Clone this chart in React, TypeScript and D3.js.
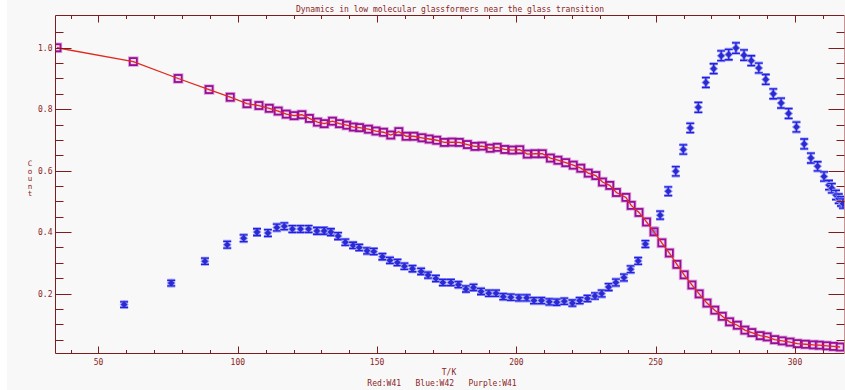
import * as d3 from 'd3';

// T/K values and counts
const purpleT = [35.1, 62.5, 78.6, 89.7, 97.3, 103.3, 107.6, 111.3, 114.5, 117.4,
  120.2, 123.0, 125.7, 128.6, 131.0, 134.0, 136.5, 139.1, 141.5, 143.7,
  146.9, 149.6, 152.3, 154.9, 157.8, 160.4, 163.2, 166.1, 168.7, 171.4,
  174.1, 176.9, 179.5, 182.4, 185.1, 187.7, 190.6, 193.1, 195.8, 198.5,
  201.2, 203.9, 206.7, 209.3, 212.2, 214.9, 217.7, 220.4, 223.1, 225.8,
  228.5, 230.9, 233.5, 235.9, 239.3, 241.2, 244.0, 246.7, 249.4, 252.2,
  254.9, 257.6, 260.2, 263.0, 265.6, 268.4, 271.2, 273.9, 276.5, 279.3,
  282.0, 284.5, 287.5, 290.0, 292.7, 295.4, 298.2, 300.8, 303.7, 306.6,
  308.7, 311.4, 313.8, 316.2];
const purpleV = [1.000, 0.955, 0.900, 0.864, 0.839, 0.818, 0.812, 0.803, 0.794, 0.784,
  0.779, 0.782, 0.770, 0.758, 0.753, 0.761, 0.753, 0.748, 0.742, 0.740,
  0.735, 0.729, 0.725, 0.716, 0.727, 0.712, 0.712, 0.707, 0.703, 0.699,
  0.692, 0.693, 0.692, 0.685, 0.679, 0.680, 0.673, 0.676, 0.669, 0.667,
  0.668, 0.654, 0.655, 0.655, 0.641, 0.634, 0.626, 0.618, 0.608, 0.592,
  0.584, 0.563, 0.552, 0.529, 0.513, 0.487, 0.464, 0.433, 0.401, 0.365,
  0.332, 0.295, 0.261, 0.228, 0.199, 0.169, 0.146, 0.126, 0.108, 0.097,
  0.081, 0.073, 0.063, 0.059, 0.050, 0.046, 0.042, 0.037, 0.035, 0.033,
  0.032, 0.030, 0.028, 0.026];

const blueT = [59.2, 76.1, 88.2, 96.2, 102.1, 106.9, 110.8, 114.0, 116.7, 119.6,
  122.5, 125.4, 128.4, 131.0, 133.4, 136.0, 138.6, 141.4, 143.6, 146.4,
  148.8, 151.9, 154.6, 157.3, 159.8, 162.7, 165.8, 168.3, 171.1, 173.6,
  176.5, 179.2, 181.9, 184.6, 187.3, 190.1, 192.7, 195.3, 198.0, 200.9,
  203.7, 206.3, 209.0, 211.8, 214.5, 217.2, 220.1, 222.7, 225.5, 228.2,
  230.6, 233.1, 235.7, 238.6, 241.0, 243.7, 246.3, 249.2, 251.6, 254.5,
  257.2, 259.9, 262.4, 265.3, 268.0, 270.8, 273.5, 276.2, 278.8, 281.7,
  284.3, 287.0, 289.5, 292.2, 295.0, 297.7, 300.5, 303.3, 305.7, 308.1,
  310.4, 312.2, 313.2, 314.7, 315.7, 316.5, 317.2];
const blueV = [0.164, 0.234, 0.305, 0.359, 0.380, 0.400, 0.397, 0.415, 0.419, 0.410,
  0.410, 0.410, 0.404, 0.404, 0.400, 0.387, 0.367, 0.357, 0.350, 0.339,
  0.337, 0.320, 0.308, 0.301, 0.289, 0.281, 0.272, 0.260, 0.249, 0.236,
  0.236, 0.229, 0.215, 0.220, 0.207, 0.201, 0.201, 0.190, 0.188, 0.186,
  0.186, 0.177, 0.177, 0.173, 0.172, 0.175, 0.169, 0.177, 0.184, 0.192,
  0.200, 0.221, 0.236, 0.252, 0.279, 0.306, 0.361, 0.403, 0.455, 0.533,
  0.598, 0.669, 0.739, 0.806, 0.887, 0.932, 0.974, 0.978, 0.999, 0.976,
  0.958, 0.934, 0.897, 0.850, 0.820, 0.786, 0.742, 0.687, 0.641, 0.614,
  0.581, 0.553, 0.543, 0.521, 0.509, 0.500, 0.493];
const blueErr = [0.009, 0.009, 0.010, 0.011, 0.011, 0.011, 0.011, 0.011, 0.011, 0.011,
  0.011, 0.011, 0.011, 0.011, 0.011, 0.011, 0.010, 0.010, 0.010, 0.010,
  0.010, 0.010, 0.010, 0.010, 0.010, 0.010, 0.010, 0.010, 0.010, 0.010,
  0.010, 0.010, 0.010, 0.010, 0.010, 0.010, 0.010, 0.010, 0.010, 0.010,
  0.010, 0.010, 0.010, 0.010, 0.010, 0.010, 0.010, 0.010, 0.010, 0.010,
  0.011, 0.011, 0.011, 0.011, 0.011, 0.011, 0.011, 0.011, 0.013, 0.014,
  0.015, 0.015, 0.015, 0.016, 0.016, 0.016, 0.016, 0.017, 0.017, 0.017,
  0.016, 0.016, 0.016, 0.016, 0.016, 0.016, 0.016, 0.016, 0.016, 0.015,
  0.015, 0.015, 0.015, 0.015, 0.015, 0.015, 0.015];

const xMajor = [50, 100, 150, 200, 250, 300];
const yMajor = [0.2, 0.4, 0.6, 0.8, 1.0];

const title = 'Dynamics in low molecular glassformers near the glass transition';
const legendText = 'Red:W41   Blue:W42   Purple:W41';
const yTitle = 'Count';

const W = 845;
const H = 390;
const left = 55.5;
const right = 844.5;
const top = 15.5;
const bottom = 353.5;

const axisColor = '#7d1d1d';
const textColor = '#8a2424';
const font = '"DejaVu Sans Mono", monospace';

export default function App() {
  const x = d3.scaleLinear().domain([34.57, 317.76]).range([left, right]);
  const y = d3.scaleLinear().domain([0.0049, 1.105]).range([bottom, top]);

  const xMinor = d3.range(40, 320, 10).filter(t => t % 50 !== 0);
  const yMinor = d3.range(0.05, 1.1, 0.05).filter(v => Math.abs(v * 5 - Math.round(v * 5)) > 1e-6);

  const line = d3.line<number>()
    .x(i => x(purpleT[i]))
    .y(i => y(purpleV[i]));
  const idx = d3.range(purpleT.length);

  const diamond = (cx: number, cy: number, r: number) =>
    `M${cx},${cy - r}L${cx + r},${cy}L${cx},${cy + r}L${cx - r},${cy}Z`;

  return (
    <svg width={W} height={H} style={{ position: 'absolute', left: 0, top: 0, display: 'block' }}>
      <rect x={0} y={0} width={W} height={H} fill="#ffffff" />
      <rect x={7} y={0} width={W - 7} height={H} fill="#f8f8f8" />
      <defs>
        <clipPath id="plot">
          <rect x={left} y={top} width={right - left} height={bottom - top} />
        </clipPath>
      </defs>

      <text x={450} y={12} textAnchor="middle" fontFamily={font} fontSize={8} fill={textColor}>{title}</text>

      <g clipPath="url(#plot)">
        {/* blue error bars + markers */}
        {blueT.map((t, i) => {
          const cx = x(t);
          const y1 = y(blueV[i] + blueErr[i]);
          const y2 = y(blueV[i] - blueErr[i]);
          return (
            <g key={'b' + i}>
              <g stroke="#9a9af2" strokeWidth={3}>
                <line x1={cx} x2={cx} y1={y1} y2={y2} />
                <line x1={cx - 4} x2={cx + 4} y1={y1} y2={y1} />
                <line x1={cx - 4} x2={cx + 4} y1={y2} y2={y2} />
              </g>
              <path d={diamond(cx, y(blueV[i]), 4.5)} fill="#9a9af2" />
              <g stroke="#2020e6" strokeWidth={1.3}>
                <line x1={cx} x2={cx} y1={y1} y2={y2} />
                <line x1={cx - 4} x2={cx + 4} y1={y1} y2={y1} />
                <line x1={cx - 4} x2={cx + 4} y1={y2} y2={y2} />
              </g>
              <path d={diamond(cx, y(blueV[i]), 3.3)} fill="#2a2ad0" />
            </g>
          );
        })}

        {/* purple squares */}
        {idx.map(i => (
          <rect key={'ph' + i} x={x(purpleT[i]) - 4} y={y(purpleV[i]) - 4} width={8} height={8}
            fill="none" stroke="#dcaadc" strokeWidth={2.6} />
        ))}
        {idx.map(i => (
          <rect key={'p' + i} x={x(purpleT[i]) - 3.5} y={y(purpleV[i]) - 3.5} width={7} height={7}
            fill="#e9c4e9" fillOpacity={0.6} stroke="#990d99" strokeWidth={1.8} />
        ))}
        {/* red line */}
        <path d={line(idx) || ''} fill="none" stroke="#e02a1e" strokeWidth={1.3} />
      </g>

      {/* frame */}
      <g stroke={axisColor} strokeWidth={1} fill="none">
        <line x1={left} x2={left} y1={top} y2={bottom} />
        <line x1={left} x2={right} y1={bottom} y2={bottom} />
        <line x1={left} x2={right} y1={top} y2={top} />
        <line x1={right} x2={right} y1={top} y2={bottom} stroke="#c49494" />
        {xMajor.map(t => (
          <g key={'xt' + t}>
            <line x1={Math.round(x(t)) + 0.5} x2={Math.round(x(t)) + 0.5} y1={bottom} y2={bottom - 7} />
            <line x1={Math.round(x(t)) + 0.5} x2={Math.round(x(t)) + 0.5} y1={top} y2={top + 7} />
          </g>
        ))}
        {xMinor.map(t => (
          <g key={'xm' + t}>
            <line x1={Math.round(x(t)) + 0.5} x2={Math.round(x(t)) + 0.5} y1={bottom} y2={bottom - 3.5} />
            <line x1={Math.round(x(t)) + 0.5} x2={Math.round(x(t)) + 0.5} y1={top} y2={top + 3.5} />
          </g>
        ))}
        {yMajor.map(v => (
          <g key={'yt' + v}>
            <line x1={left} x2={left + 16} y1={Math.round(y(v)) + 0.5} y2={Math.round(y(v)) + 0.5} />
            <line x1={right} x2={right - 16} y1={Math.round(y(v)) + 0.5} y2={Math.round(y(v)) + 0.5} />
          </g>
        ))}
        {yMinor.map(v => (
          <g key={'ym' + v}>
            <line x1={left} x2={left + 8} y1={Math.round(y(v)) + 0.5} y2={Math.round(y(v)) + 0.5} />
            <line x1={right} x2={right - 8} y1={Math.round(y(v)) + 0.5} y2={Math.round(y(v)) + 0.5} />
          </g>
        ))}
      </g>

      {/* tick labels */}
      <g fontFamily={font} fontSize={8} fill={textColor}>
        {xMajor.map(t => (
          <text key={'xl' + t} x={x(t)} y={bottom + 11} textAnchor="middle">{t}</text>
        ))}
        {yMajor.map(v => (
          <text key={'yl' + v} x={left - 3} y={y(v) + 3} textAnchor="end">{v.toFixed(1)}</text>
        ))}
      </g>

      {/* axis titles */}
      <text x={449} y={375} textAnchor="middle" fontFamily={font} fontSize={8} fill={textColor}>T/K</text>
      <text x={442} y={386} textAnchor="middle" fontFamily={font} fontSize={8} fill={textColor}
        style={{ whiteSpace: 'pre' }}>{legendText}</text>
      <g fontFamily={font} fontSize={7.5} fill={textColor}>
        {yTitle.split('').map((c, i) => (
          <text key={i} x={30} y={166 + i * 7.6} textAnchor="middle">{c}</text>
        ))}
      </g>
    </svg>
  );
}
